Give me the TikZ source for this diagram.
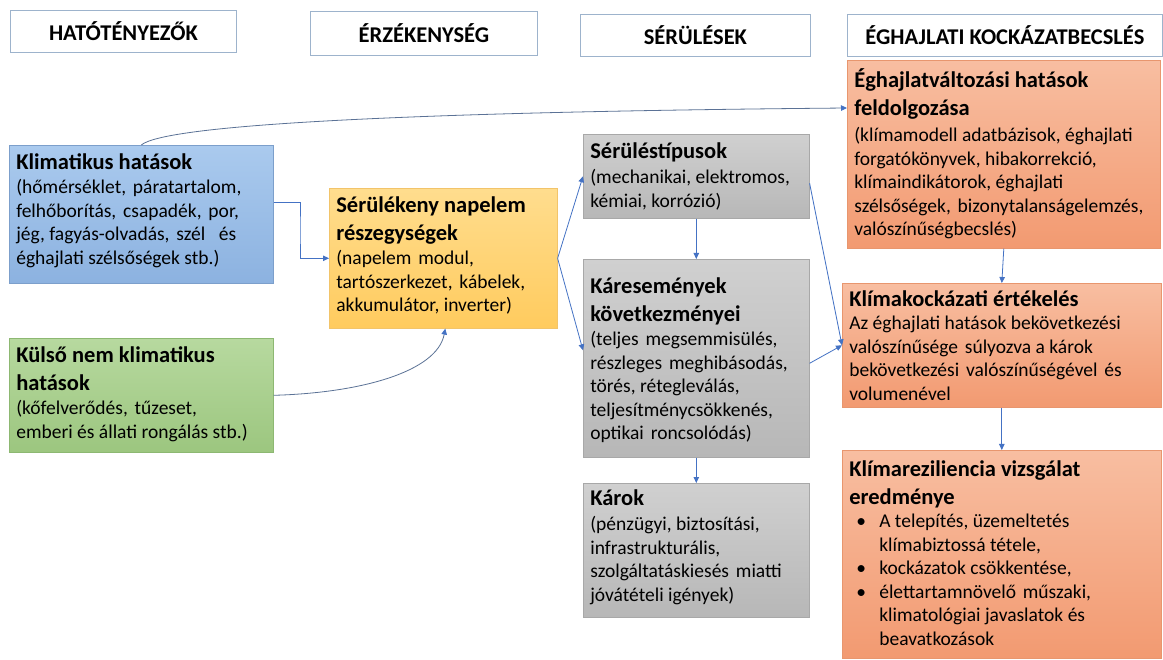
\documentclass[tikz,border=0pt]{standalone}
\usepackage{fontspec}
\setmainfont{Carlito}
\usetikzlibrary{arrows.meta,calc}
\definecolor{arrowblue}{HTML}{4472C4}
\definecolor{curveline}{HTML}{5B7296}
\definecolor{hdrborder}{HTML}{9DB3CC}
\newlength\padx
\setlength\padx{7pt}
\newcommand\bt[4]{\parbox[c][#2pt][t]{\dimexpr #1pt-2\padx\relax}{\raggedright\vspace*{#3pt}#4}}
\newcommand\ttl{\fontsize{22.5}{28}\selectfont\bfseries}
\newcommand\bdy{\fontsize{19.5}{23.5}\selectfont}
\newcommand\bul{\hspace*{7pt}\makebox[23pt][l]{\textbullet}}
\newcommand\dsp{\hspace{0.35em}}
\definecolor{blueB}{HTML}{7C9FCB}\definecolor{blueT}{HTML}{AACAEE}\definecolor{blueD}{HTML}{8CB2E0}
\definecolor{greenB}{HTML}{8DB872}\definecolor{greenT}{HTML}{B7D99F}\definecolor{greenD}{HTML}{9CC67F}
\definecolor{yelB}{HTML}{F2C46A}\definecolor{yelT}{HTML}{FFDD8E}\definecolor{yelD}{HTML}{FFCB5E}
\definecolor{greyB}{HTML}{A8A8A8}\definecolor{greyT}{HTML}{D0D0D0}\definecolor{greyD}{HTML}{B7B7B7}
\definecolor{orB}{HTML}{E8966E}\definecolor{orT}{HTML}{F8BEA1}\definecolor{orD}{HTML}{F29A71}
\tikzset{
  bx/.style={draw=#1, line width=0.6pt, inner xsep=\padx, inner ysep=0pt, anchor=north west},
  hdr/.style={draw=hdrborder, line width=0.8pt, anchor=north west, inner sep=0pt,
              font=\fontsize{22.5}{27}\selectfont\bfseries},
  arr/.style={draw=arrowblue, line width=0.8pt, -{Triangle[length=6pt,width=5.5pt,color=arrowblue]}},
  carr/.style={draw=curveline, line width=0.8pt, -{Triangle[length=6pt,width=5.5pt,color=arrowblue]}},
  cblue/.style={bx=blueB, top color=blueT, bottom color=blueD},
  cgreen/.style={bx=greenB, top color=greenT, bottom color=greenD},
  cyel/.style={bx=yelB, top color=yelT, bottom color=yelD},
  cgrey/.style={bx=greyB, top color=greyT, bottom color=greyD},
  corange/.style={bx=orB, top color=orT, bottom color=orD},
}
\begin{document}
\begin{tikzpicture}[x=1pt,y=-1pt]
\fill[white] (0,0) rectangle (1163,660);
\useasboundingbox (0,0) rectangle (1163,660);

% headers
\node[hdr, minimum width=226pt, minimum height=42pt] (h1) at (10,10) {HATÓTÉNYEZŐK};
\node[hdr, minimum width=227pt, minimum height=44pt] (h2) at (310,11) {ÉRZÉKENYSÉG};
\node[hdr, minimum width=230pt, minimum height=42pt] (h3) at (580,14) {SÉRÜLÉSEK};
\node[hdr, minimum width=315pt, minimum height=42pt] (h4) at (847,14) {ÉGHAJLATI KOCKÁZATBECSLÉS};

% left column
\node[cblue] (kl) at (9,145) {\bt{264}{138}{8}{{\ttl Klimatikus hatások\par}\vspace{1pt}{\bdy (hőmérséklet,\dsp páratartalom,\\felhőborítás,\dsp csapadék,\dsp por,\\jég, fagyás-olvadás,\dsp szél\dsp\dsp és\\éghajlati szélsőségek stb.)\par}}};
\node[cgreen] (kg) at (9,338) {\bt{264}{114}{8}{{\ttl Külső nem klimatikus\\hatások\par}\vspace{1pt}{\bdy (kőfelverődés,\dsp tűzeset,\\emberi és állati rongálás stb.)\par}}};

% sensitivity
\node[cyel] (ye) at (329,188) {\bt{228}{140}{8}{{\ttl Sérülékeny napelem\\részegységek\par}\vspace{1pt}{\bdy (napelem\dsp modul,\\tartószerkezet,\dsp kábelek,\\akkumulátor, inverter)\par}}};

% damages
\node[cgrey] (g1) at (583,134) {\bt{226}{84}{8}{{\ttl Sérüléstípusok\par}\vspace{2pt}{\bdy (mechanikai, elektromos,\\kémiai, korrózió)\par}}};
\node[cgrey] (g2) at (583,259) {\bt{226}{198}{18}{{\ttl Káresemények\\következményei\par}\vspace{1pt}{\bdy (teljes\dsp megsemmisülés,\\részleges\dsp meghibásodás,\\törés, rétegleválás,\\teljesítménycsökkenés,\\optikai\dsp roncsolódás)\par}}};
\node[cgrey] (g3) at (583,483) {\bt{226}{134}{6}{{\ttl Károk\par}\vspace{2pt}{\bdy (pénzügyi, biztosítási,\\infrastrukturális,\\szolgáltatáskiesés\dsp miatti\\jóvátételi igények)\par}}};

% risk assessment
\node[corange] (o1) at (847,60) {\bt{313}{188}{8}{{\ttl Éghajlatváltozási hatások\\feldolgozása\par}\vspace{3pt}{\bdy (klímamodell adatbázisok, éghajlati\\forgatókönyvek, hibakorrekció,\\klímaindikátorok, éghajlati\\szélsőségek,\dsp bizonytalanságelemzés,\\valószínűségbecslés)\par}}};
\node[corange] (o2) at (842,283) {\bt{319}{124}{7}{{\ttl Klímakockázati értékelés\par}{\bdy Az éghajlati hatások bekövetkezési\\valószínűsége\dsp súlyozva a károk\\bekövetkezési\dsp valószínűségével\dsp és\\volumenével\par}}};
\node[corange] (o3) at (842,450) {\bt{319}{208}{10}{{\ttl Klímareziliencia vizsgálat\\eredménye\par}{\bdy
{\hangindent=30pt\hangafter=1\noindent\bul A telepítés, üzemeltetés\newline klímabiztossá tétele,\par}
{\hangindent=30pt\hangafter=1\noindent\bul kockázatok csökkentése,\par}
{\hangindent=30pt\hangafter=1\noindent\bul élettartamnövelő\dsp műszaki,\newline klimatológiai javaslatok és\newline beavatkozások\par}}}};

% connectors
\coordinate (bend1) at (300,230);
\draw[arr] ([yshift=12pt]kl.east) -| (bend1) |- (ye.west);
\draw[carr] (kg.east) .. controls (360,393) and (437,372) .. ([xshift=2pt]ye.south);
\draw[carr] (kl.north) .. controls (165,125) and (400,112) .. ([yshift=-48pt]o1.north west);
\draw[arr] (ye.east) -- (g1.west);
\draw[arr] (ye.east) -- ([yshift=8pt]g2.west);
\draw[arr] (g1.south) -- (g2.north);
\draw[arr] (g2.south) -- (g3.north);
\draw[arr] ([yshift=-7pt]g1.east) -- (o2.west);
\draw[arr] ([yshift=-5pt]g2.east) -- (o2.west);
\draw[arr] (o1.south) -- (o2.north);
\draw[arr] (o2.south) -- (o3.north);
\end{tikzpicture}
\end{document}
